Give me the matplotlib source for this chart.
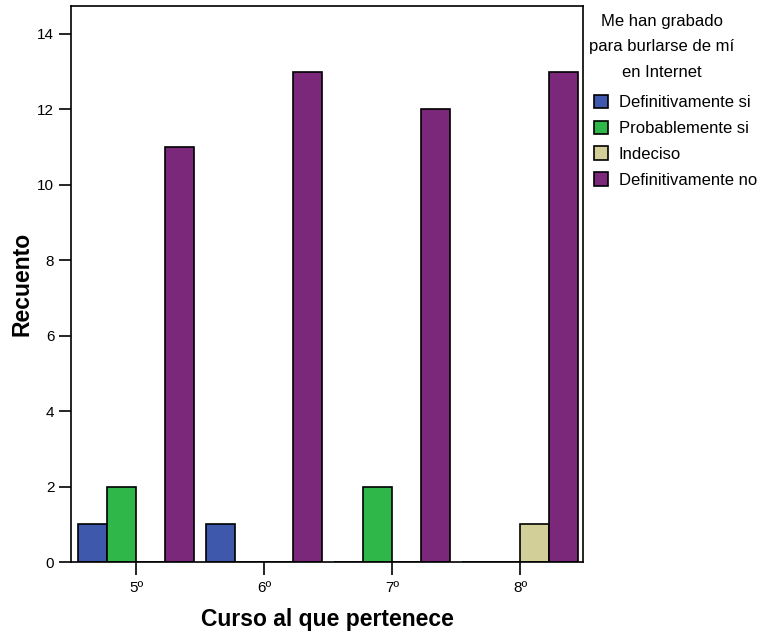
import matplotlib.pyplot as plt
import numpy as np

plt.rcParams['font.family'] = ['Liberation Sans', 'DejaVu Sans']

cursos = ['5º', '6º', '7º', '8º']
series = ['Definitivamente si', 'Probablemente si', 'Indeciso', 'Definitivamente no']
def_si = [1, 1, 0, 0]
prob_si = [2, 0, 2, 0]
indeciso = [0, 0, 0, 1]
def_no = [11, 13, 12, 13]
colores = ['#3e58ac', '#30b74a', '#d3cf98', '#7b287b']

valores = [def_si, prob_si, indeciso, def_no]

fig = plt.figure(figsize=(7.62, 6.33), dpi=100)
ax = fig.add_axes([71 / 762, 1 - 562 / 633, 512 / 762, 556 / 633])

x = np.arange(len(cursos))
ancho = 0.2266
for i, (nombre, vals) in enumerate(zip(series, valores)):
    ax.bar(x + (i - 1.5) * ancho, vals, ancho, color=colores[i],
           edgecolor='black', linewidth=1.2, label=nombre)

ax.set_xlim(-0.508, 3.492)
ax.set_ylim(0, 14.74)
ax.set_yticks(range(0, 15, 2))
ax.set_xticks(x)
ax.set_xticklabels(cursos)
ax.tick_params(direction='out', length=9, width=1.2, labelsize=11)
ax.tick_params(axis='x', pad=5)
ax.tick_params(axis='y', pad=3)
for s in ax.spines.values():
    s.set_linewidth(1.2)

ax.set_ylabel('Recuento', fontsize=16.5, fontweight='bold', labelpad=3)
ax.set_xlabel('Curso al que pertenece', fontsize=16.5, fontweight='bold', labelpad=9)

# titulo de la leyenda, centrado
fig.text(662 / 762, 1 - 47 / 633, 'Me han grabado\npara burlarse de mí\nen Internet',
         ha='center', va='center', multialignment='center',
         fontsize=12, linespacing=1.86)

leg = fig.legend(loc='upper left', bbox_to_anchor=(594 / 762, 1 - 95 / 633),
                 frameon=False, fontsize=12,
                 handlelength=0.85, handleheight=0.85, handletextpad=0.65,
                 labelspacing=0.62, borderaxespad=0, borderpad=0)

fig.savefig('out.png', dpi=100)
